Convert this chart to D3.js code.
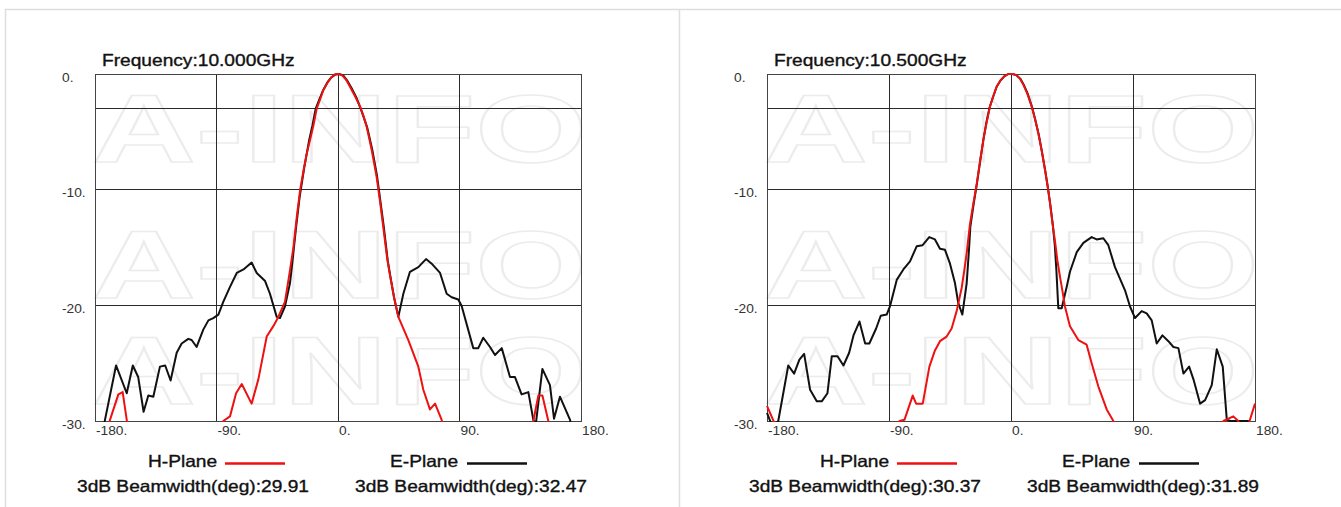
<!DOCTYPE html>
<html><head><meta charset="utf-8">
<script src="https://cdn.jsdelivr.net/npm/d3@7"></script>
<style>
html,body{margin:0;padding:0;background:#fff;}
svg{display:block;font-family:"Liberation Sans",Arial,sans-serif;}
</style></head><body>
<svg id="c" width="1341" height="507"></svg>
<script>
// ---------------- data ----------------
const xTicks = [-180, -90, 0, 90, 180];
const xTickLabels = ["-180.", "-90.", "0.", "90.", "180."];
const yTicks = [0, -10, -20, -30];
const yTickLabels = ["0.", "-10.", "-20.", "-30."];
const yGrid = [-3, -10, -20];
const xGrid = [-90, 0, 90];
const frequencies = ["Frequency:10.000GHz", "Frequency:10.500GHz"];
const seriesNames = ["H-Plane", "E-Plane"];
const beamwidthH = ["3dB Beamwidth(deg):29.91", "3dB Beamwidth(deg):30.37"];
const beamwidthE = ["3dB Beamwidth(deg):32.47", "3dB Beamwidth(deg):31.89"];
const watermark = "A-INFO";

// [angle deg, gain dB]
const hPlane10 = [[-180,-36],[-172,-31.5],[-168.9,-29.9],[-162.7,-27.7],[-159.5,-27.5],[-156.5,-29.9],[-153,-33],[-120,-38],[-90,-33],
 [-85,-30],[-80,-29.6],[-75.5,-27.6],[-71.3,-26.8],[-64,-28.5],[-59,-26.4],[-52.8,-22.7],[-47.9,-21.8],[-44.2,-21.0],[-39.3,-19.7],
 [-36,-17.3],[-33,-15.0],[-30.5,-12.3],[-28,-10.0],[-25.5,-8.3],[-23,-6.8],[-20.5,-5.6],[-18.3,-4.5],[-15.8,-3.0],[-13,-2.1],[-10.9,-1.4],
 [-8,-0.8],[-5,-0.3],[-2.5,-0.05],[0.5,0],[3,-0.1],[6,-0.5],[8.9,-1.1],[12.5,-1.9],[16.3,-2.8],[18.8,-3.6],[21.2,-4.55],[23,-5.5],[25,-6.6],
 [28.6,-8.9],[31,-10.9],[33.6,-13.3],[36.5,-16.0],[38.5,-17.4],[41.5,-19.3],[44.7,-21.0],[52.1,-23.0],[59.5,-25.3],[63.2,-27.3],[68.1,-29.0],
 [71.9,-28.5],[76.8,-29.9],[80,-32],[110,-38],[140,-33],[144.7,-30],[148.4,-27.8],[151.4,-27.8],[155.8,-30],[160,-34],[180,-37]];

const ePlane10 = [[-180,-34],[-175,-31.5],[-172.6,-29.9],[-164.4,-25.2],[-156.5,-27.6],[-152,-25.2],[-148,-26.2],[-144,-29.2],[-140.5,-27.8],
 [-136.8,-27.9],[-131.9,-25.3],[-128,-25.2],[-124,-26.5],[-119.5,-24.1],[-115.8,-23.3],[-110.9,-22.9],[-108.4,-23.0],[-104.7,-23.6],[-99.8,-22.1],
 [-96,-21.3],[-92.4,-21.1],[-88.6,-20.8],[-85,-19.7],[-80,-18.4],[-75,-17.2],[-70,-16.9],[-64,-16.3],[-60.2,-17.2],[-54,-17.9],[-50.4,-19.0],
 [-45.4,-21.0],[-43,-21.1],[-39.3,-20.1],[-35.6,-18.1],[-34,-16.5],[-31,-13.2],[-28.5,-10.7],[-25,-8.1],[-21.5,-5.8],[-19,-4.5],[-16.5,-3.0],
 [-13.5,-2.1],[-11,-1.4],[-8,-0.75],[-5,-0.3],[-2,-0.05],[1,0],[4,-0.15],[7,-0.6],[10,-1.2],[13.5,-2.0],[16.8,-3.0],[19.2,-3.8],[21.6,-4.6],
 [25.3,-6.5],[28.9,-8.8],[31.3,-10.9],[33.9,-13.2],[36.8,-16.1],[38.5,-17.3],[41.5,-19.3],[44.7,-21.0],[48.4,-19.0],[53.3,-17.1],[59.5,-16.7],
 [65.2,-16.0],[69.4,-16.4],[75.6,-17.2],[80.5,-19.0],[84.2,-19.3],[89.1,-19.5],[91.6,-20.05],[100.2,-23.7],[103.9,-23.7],[107.6,-22.8],
 [112.6,-23.6],[116.3,-24.3],[121.3,-23.7],[127.4,-26.2],[131.1,-26.2],[136,-27.7],[141,-27.5],[144.7,-29.9],[146.5,-30.3],[151.4,-25.5],
 [157,-26.9],[160,-29.8],[164.4,-27.9],[171.9,-29.9],[175,-32],[180,-34]];

const hPlane105 = [[-180,-28.7],[-174.8,-30.1],[-170,-33],[-130,-38],[-90,-33],[-82.3,-30],[-78.6,-29.9],[-72.5,-27.8],[-70,-28.5],[-65.1,-28.5],
 [-60.2,-25.3],[-56.1,-23.9],[-52.4,-23.1],[-47.5,-22.7],[-43.8,-22.0],[-40.1,-20.5],[-36.4,-18.5],[-34.5,-17.0],[-32.7,-15.5],[-30.3,-13.0],
 [-27.8,-11.2],[-25.3,-9.5],[-22.8,-7.5],[-20.4,-5.7],[-18,-4.2],[-15.5,-2.8],[-13,-1.9],[-10.6,-1.1],[-8,-0.6],[-5,-0.2],[-2,0],[1,0],[4,-0.1],
 [6.6,-0.4],[9,-0.9],[12,-1.7],[15.3,-2.8],[17.7,-3.9],[20.1,-5.1],[22.6,-6.6],[25.1,-8.3],[27,-9.7],[28.8,-11.2],[30.5,-12.8],[32.5,-14.5],
 [34.2,-16.1],[36.1,-17.5],[38,-18.8],[39.8,-20.1],[43.5,-21.8],[49.7,-23.0],[55.8,-23.4],[59.5,-25.0],[64.4,-27.0],[70.6,-29.0],[75.5,-30],
 [80,-33],[120,-38],[150,-33],[156.7,-30],[164,-29.6],[167.7,-30],[170,-31],[174,-31],[176,-30],[180,-28.5]];

const ePlane105 = [[-180,-29.3],[-176,-30.5],[-171.7,-30],[-168,-27.6],[-164.3,-25.2],[-160,-25.9],[-156.1,-24.7],[-152.6,-24.2],[-148.2,-27.3],
 [-143.3,-28.3],[-139.6,-28.3],[-135.4,-27.6],[-132.2,-24.4],[-128,-24.4],[-123.6,-25.2],[-119.4,-24.1],[-116.2,-22.6],[-111.8,-21.4],
 [-107.6,-23.3],[-104.5,-23.3],[-99.5,-22.0],[-96.1,-20.9],[-91.7,-20.8],[-89.3,-20.1],[-84.3,-17.8],[-79.4,-16.9],[-74.5,-16.2],[-69.6,-14.9],
 [-65.2,-14.8],[-60.3,-14.1],[-56.1,-14.3],[-52.4,-15.1],[-48.7,-15.2],[-45,-16.4],[-41.3,-18.1],[-38.9,-19.8],[-35.9,-20.8],[-32.7,-18.1],
 [-31,-15.2],[-30,-13.2],[-27.5,-11.2],[-25.3,-9.6],[-22.8,-7.6],[-20.4,-5.7],[-18,-4.1],[-15.8,-2.9],[-13,-1.9],[-10.6,-1.1],[-8,-0.6],
 [-5,-0.2],[-2,0],[1,0],[4,-0.1],[6.8,-0.4],[9.3,-0.9],[12.3,-1.7],[15.6,-2.9],[18,-4.0],[20.4,-5.2],[22.8,-6.7],[25.3,-8.4],[27.2,-9.8],
 [29,-11.3],[30.8,-13.0],[32.3,-14.8],[33.5,-17],[34.9,-20.25],[37.4,-20.25],[41.1,-18.4],[43.5,-17.1],[48.5,-15.4],[53.4,-14.6],[59.5,-14.1],
 [63.2,-14.3],[68.1,-14.2],[71.8,-14.8],[76.7,-16.7],[84.1,-18.7],[87.8,-20.1],[91.5,-21.1],[96.4,-20.5],[100.1,-20.7],[103.8,-21.3],
 [107.5,-23.3],[111.7,-22.6],[116.1,-23.1],[119.8,-23.6],[123.5,-23.7],[127.2,-25.9],[131.4,-25.3],[134.6,-26.4],[139.5,-28.5],[143.2,-28.2],
 [148.1,-26.9],[151.8,-23.8],[156.2,-25.3],[159.2,-29.9],[162,-30],[175,-30],[177,-31],[180,-32]];

// ---------------- drawing ----------------
const svg = d3.select("#c");
const STRETCH = 1.16;
function stretch(sel, f) {
  sel.each(function () {
    const L = this.getComputedTextLength();
    d3.select(this).attr("textLength", L * (f || STRETCH)).attr("lengthAdjust", "spacingAndGlyphs");
  });
  return sel;
}
function label(g, x, y, size, txt) {
  return g.append("text").attr("x", x).attr("y", y).attr("font-size", size)
    .attr("fill", "#111").attr("stroke", "#111").attr("stroke-width", 0.35)
    .text(txt).call(stretch);
}

// panel frames
const frame = svg.append("g").attr("stroke", "#dedede").attr("stroke-width", 1.5).attr("fill", "none");
frame.append("line").attr("x1", 5).attr("x2", 1341).attr("y1", 9.5).attr("y2", 9.5);
frame.append("line").attr("x1", 5.5).attr("x2", 5.5).attr("y1", 9).attr("y2", 507);
frame.append("line").attr("x1", 679.5).attr("x2", 679.5).attr("y1", 9).attr("y2", 507);

const panels = [
  { x0: 95, w: 486, h: hPlane10, e: ePlane10, i: 0 },
  { x0: 767, w: 488, h: hPlane105, e: ePlane105, i: 1 }
];
const plotTop = 74, plotBottom = 421;

panels.forEach(p => {
  const g = svg.append("g");
  const x = d3.scaleLinear().domain([-180, 180]).range([p.x0, p.x0 + p.w]);
  const y = d3.scaleLinear().domain([-30, 0]).range([plotBottom, plotTop]);

  // watermark (faint outlined logo text), kept inside the plot so it does not collide with tick labels
  const wm = g.append("g").attr("pointer-events", "none");
  [162, 298, 404].forEach(b => {
    wm.append("text").attr("x", p.x0 - 3).attr("y", b)
      .attr("font-size", 97).attr("font-weight", "bold").attr("fill", "none")
      .attr("stroke", "#ececec").attr("stroke-width", 1.6)
      .attr("textLength", 495).attr("lengthAdjust", "spacingAndGlyphs")
      .text(watermark);
  });

  // grid
  const grid = g.append("g").attr("stroke", "#2a2a2a").attr("stroke-width", 1).attr("shape-rendering", "crispEdges");
  grid.selectAll("line.v").data(xGrid).join("line")
    .attr("x1", d => x(d)).attr("x2", d => x(d)).attr("y1", plotTop).attr("y2", plotBottom);
  grid.selectAll("line.h").data(yGrid).join("line")
    .attr("x1", p.x0).attr("x2", p.x0 + p.w).attr("y1", d => y(d)).attr("y2", d => y(d));
  g.append("rect").attr("x", p.x0).attr("y", plotTop).attr("width", p.w).attr("height", plotBottom - plotTop)
    .attr("fill", "none").attr("stroke", "#444").attr("stroke-width", 1).attr("shape-rendering", "crispEdges");

  // x tick labels
  g.append("g").selectAll("text").data(xTicks).join("text")
    .attr("x", d => x(d) + 1).attr("y", 435).attr("font-size", 12.5).attr("fill", "#333")
    .text((d, i) => xTickLabels[i]).call(stretch, 1.1);
  // y tick labels
  g.append("g").selectAll("text").data(yTicks).join("text")
    .attr("x", p.x0 - 33).attr("y", d => y(d) + 7.5).attr("font-size", 12.5).attr("fill", "#333")
    .text((d, i) => yTickLabels[i]).call(stretch, 1.1);

  // curves
  const clipId = "clip" + p.i;
  svg.append("clipPath").attr("id", clipId).append("rect")
    .attr("x", p.x0 - 1).attr("y", plotTop - 2).attr("width", p.w + 2).attr("height", plotBottom - plotTop + 3);
  const line = d3.line().x(d => x(d[0])).y(d => y(d[1]));
  const cg = g.append("g").attr("clip-path", `url(#${clipId})`).attr("fill", "none")
    .attr("stroke-width", 2).attr("stroke-linejoin", "round");
  cg.append("path").attr("d", line(p.e)).attr("stroke", "#111");
  cg.append("path").attr("d", line(p.h)).attr("stroke", "#ee1111");

  // title
  label(g, p.x0 + 7, 65.5, 16.5, frequencies[p.i]);

  // legend
  label(g, p.x0 + 53, 467, 16.5, seriesNames[0]);
  g.append("line").attr("x1", p.x0 + 130).attr("x2", p.x0 + 190).attr("y1", 463.5).attr("y2", 463.5)
    .attr("stroke", "#ee1111").attr("stroke-width", 2.5);
  label(g, p.x0 + 295, 467, 16.5, seriesNames[1]);
  g.append("line").attr("x1", p.x0 + 372).attr("x2", p.x0 + 432).attr("y1", 463.5).attr("y2", 463.5)
    .attr("stroke", "#111").attr("stroke-width", 2.5);
  label(g, p.x0 - 18, 492, 16.5, beamwidthH[p.i]);
  label(g, p.x0 + 260, 492, 16.5, beamwidthE[p.i]);
});
</script>
</body></html>
